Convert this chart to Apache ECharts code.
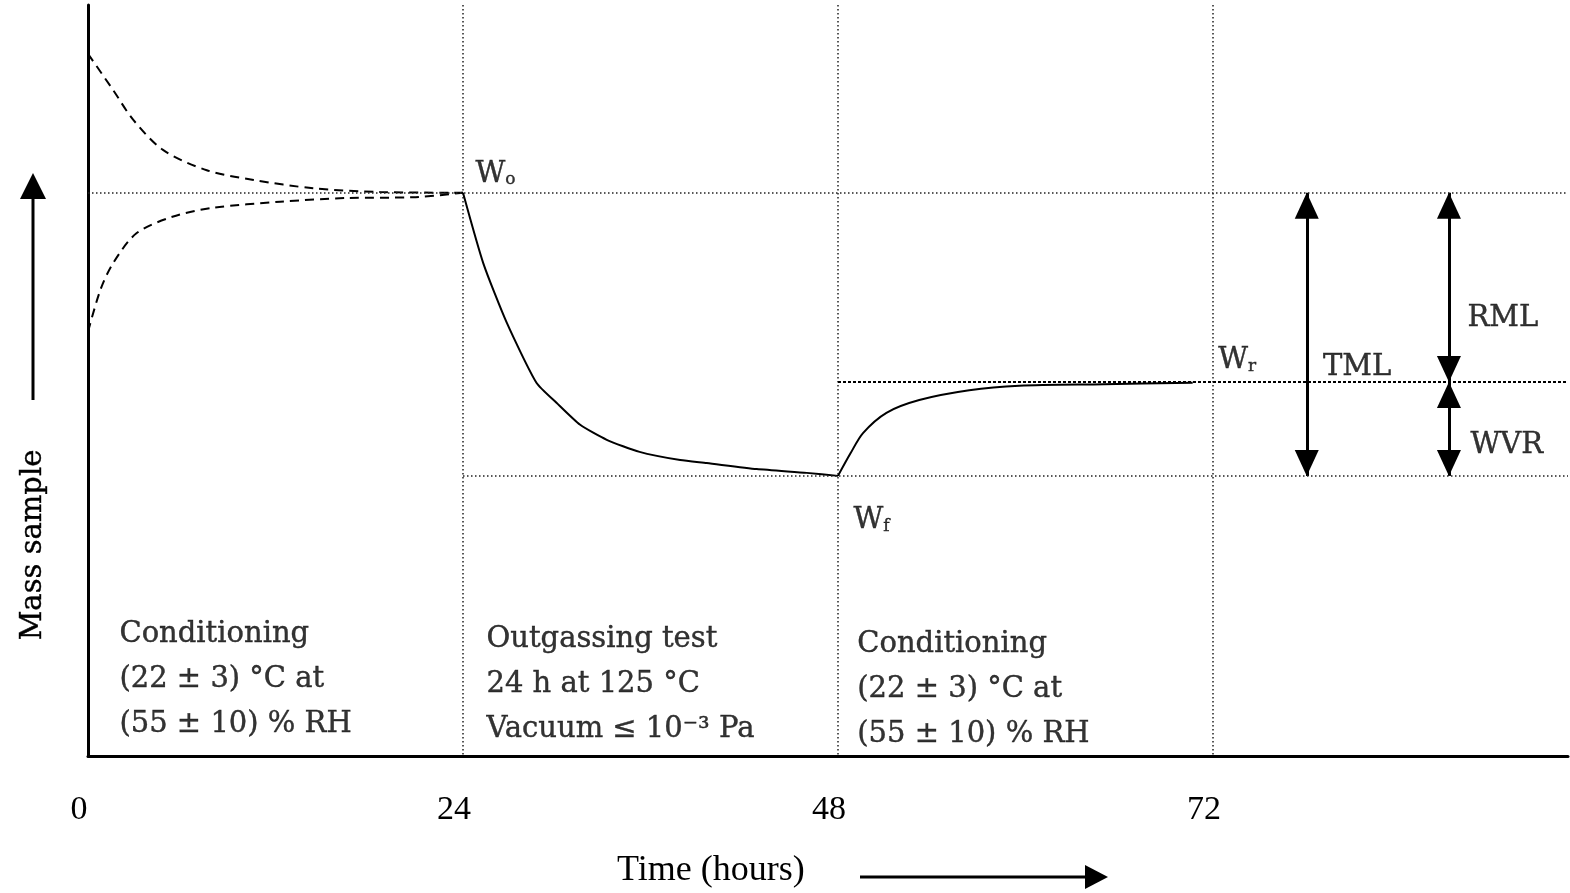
<!DOCTYPE html>
<html><head><meta charset="utf-8">
<script src="https://cdn.jsdelivr.net/npm/echarts@6/dist/echarts.min.js"></script>
<style>html,body{margin:0;padding:0;background:#fff}#c{width:1570px;height:893px}</style>
</head><body><div id="c"></div>
<script>
// ---- data (hours, relative sample mass in arbitrary units) ----
const xTicks = [0, 24, 48, 72];
const upperHours = [0, 1.6, 2.9, 4.8, 7.6, 10.6, 14.4, 18.7, 24];
const upperMass  = [93.5, 88.7, 84.7, 80.7, 78.0, 76.7, 75.6, 75.1, 75.0];
const lowerHours = [0, 0.8, 1.6, 3.1, 5.4, 8.0, 12.3, 16.6, 20.8, 24];
const lowerMass  = [56.5, 62.1, 65.6, 69.6, 71.8, 73.0, 73.8, 74.3, 74.4, 75.0];
const outgasHours = [24, 25.3, 26.8, 28.7, 30.0, 31.5, 33.2, 35.3, 37.9, 39.6, 42.8, 46.0, 48];
const outgasMass  = [75.0, 65.6, 57.7, 49.7, 47.0, 44.1, 42.1, 40.5, 39.4, 39.0, 38.2, 37.7, 37.3];
const recoverHours = [48, 48.8, 49.6, 51.1, 53.2, 56.4, 59.6, 65.0, 70.7];
const recoverMass  = [37.3, 40.3, 43.0, 45.7, 47.4, 48.7, 49.3, 49.5, 49.7];
const W0 = 75.0, Wf = 37.3, Wr = 49.8;
const tmlHour = 78, rmlHour = 87.1;
const xMax = 94.72;
const phaseTexts = [
  'Conditioning\n(22 ± 3) °C at\n(55 ± 10) % RH',
  'Outgassing test\n24 h at 125 °C\nVacuum ≤ 10⁻³ Pa',
  'Conditioning\n(22 ± 3) °C at\n(55 ± 10) % RH'
];
const levelTexts = ['W{s|o}', 'W{s|f}', 'W{s|r}', 'TML', 'RML', 'WVR'];

// ---- layout (anchors in data units) ----
const phaseAnchors = [[1.98, 10.25], [25.47, 9.59], [49.2, 8.92]];
const levelAnchors = [[24.77, 77.5], [48.96, 31.4], [72.3, 52.7], [79.0, 51.7], [88.25, 58.3], [88.45, 41.3]];

const zip = (a, b) => a.map((v, i) => [v, b[i]]);
const SERIF = 'DejaVu Serif';
const dotted = {color: '#222', width: 1.5, type: [1.5, 2.5]};
const ink = {color: '#000', textBorderColor: '#000', textBorderWidth: 0.4};

const chart = echarts.init(document.getElementById('c'), null, {renderer: 'canvas'});
chart.setOption({
  animation: false,
  backgroundColor: '#fff',
  grid: {left: 88, right: 2, top: 5, bottom: 137},
  xAxis: {
    type: 'value', min: 0, max: xMax, interval: 24,
    axisLine: {show: true, onZero: false, lineStyle: {color: '#000', width: 3}},
    axisTick: {show: false},
    splitLine: {show: true, showMinLine: false, showMaxLine: false, lineStyle: dotted},
    axisLabel: {
      margin: 37, color: '#000', fontFamily: 'Liberation Serif', fontSize: 34,
      padding: [0, 18, 0, 0], showMaxLabel: false,
      formatter: v => xTicks.includes(v) ? String(v) : ''
    }
  },
  yAxis: {
    type: 'value', min: 0, max: 100,
    axisLine: {show: true, lineStyle: {color: '#000', width: 3}},
    axisTick: {show: false}, axisLabel: {show: false}, splitLine: {show: false}
  },
  series: [
    {type: 'line', data: zip(upperHours, upperMass), smooth: 0.3, symbol: 'none',
     lineStyle: {color: '#000', width: 2, type: [9, 6]}},
    {type: 'line', data: zip(lowerHours, lowerMass), smooth: 0.3, symbol: 'none',
     lineStyle: {color: '#000', width: 2, type: [9, 6]}},
    {type: 'line', data: zip(outgasHours, outgasMass), smooth: 0.2, symbol: 'none',
     lineStyle: {color: '#000', width: 2},
     markLine: {
       silent: true, symbol: ['triangle', 'triangle'], symbolSize: [24, 26],
       symbolOffset: [[0, 13], [0, 13]],
       label: {show: false},
       lineStyle: {color: '#000', width: 3, type: 'solid'},
       data: [
         [{coord: [tmlHour, W0]}, {coord: [tmlHour, Wf]}],
         [{coord: [rmlHour, W0]}, {coord: [rmlHour, Wr]}],
         [{coord: [rmlHour, Wr]}, {coord: [rmlHour, Wf]}]
       ]
     }},
    {type: 'line', data: zip(recoverHours, recoverMass), smooth: 0.3, symbol: 'none',
     lineStyle: {color: '#000', width: 2},
     markLine: {
       silent: true, symbol: ['none', 'none'], label: {show: false},
       lineStyle: dotted,
       data: [
         [{coord: [0, W0]}, {coord: [xMax, W0]}],
         [{coord: [24, Wf]}, {coord: [xMax, Wf]}],
         [{coord: [48, Wr], lineStyle: {color: '#000', width: 2, type: [3, 2]}}, {coord: [xMax, Wr]}]
       ]
     }},
    {type: 'scatter', silent: true, symbolSize: 1, itemStyle: {color: 'rgba(0,0,0,0)'},
     label: Object.assign({show: true, position: 'right', distance: 0,
             fontFamily: SERIF, fontSize: 29, lineHeight: 45, align: 'left', verticalAlign: 'middle',
             formatter: p => phaseTexts[p.dataIndex]}, ink),
     data: phaseAnchors},
    {type: 'scatter', silent: true, symbolSize: 1, itemStyle: {color: 'rgba(0,0,0,0)'},
     label: Object.assign({show: true, position: 'right', distance: 0,
             fontFamily: SERIF, fontSize: 29, align: 'left', verticalAlign: 'middle',
             formatter: p => levelTexts[p.dataIndex],
             rich: {s: Object.assign({fontFamily: SERIF, fontSize: 17, verticalAlign: 'bottom'}, ink)}}, ink),
     data: levelAnchors}
  ],
  graphic: [
    {type: 'line', shape: {x1: 33, y1: 400, x2: 33, y2: 196}, style: {stroke: '#000', lineWidth: 3}},
    {type: 'polygon', shape: {points: [[33, 173], [20, 199], [46, 199]]}, style: {fill: '#000'}},
    {type: 'text', x: 33, y: 545, rotation: Math.PI / 2,
     style: {text: 'Mass sample', font: '29px "DejaVu Serif"', fill: '#000', stroke: '#000', lineWidth: 0.4,
             align: 'center', verticalAlign: 'middle'}},
    {type: 'text', x: 617, y: 871,
     style: {text: 'Time (hours)', font: '36px "Liberation Serif"', fill: '#000', align: 'left', verticalAlign: 'middle'}},
    {type: 'line', shape: {x1: 860, y1: 877, x2: 1088, y2: 877}, style: {stroke: '#000', lineWidth: 3}},
    {type: 'polygon', shape: {points: [[1108, 877], [1085, 865], [1085, 889]]}, style: {fill: '#000'}}
  ]
});
</script></body></html>
